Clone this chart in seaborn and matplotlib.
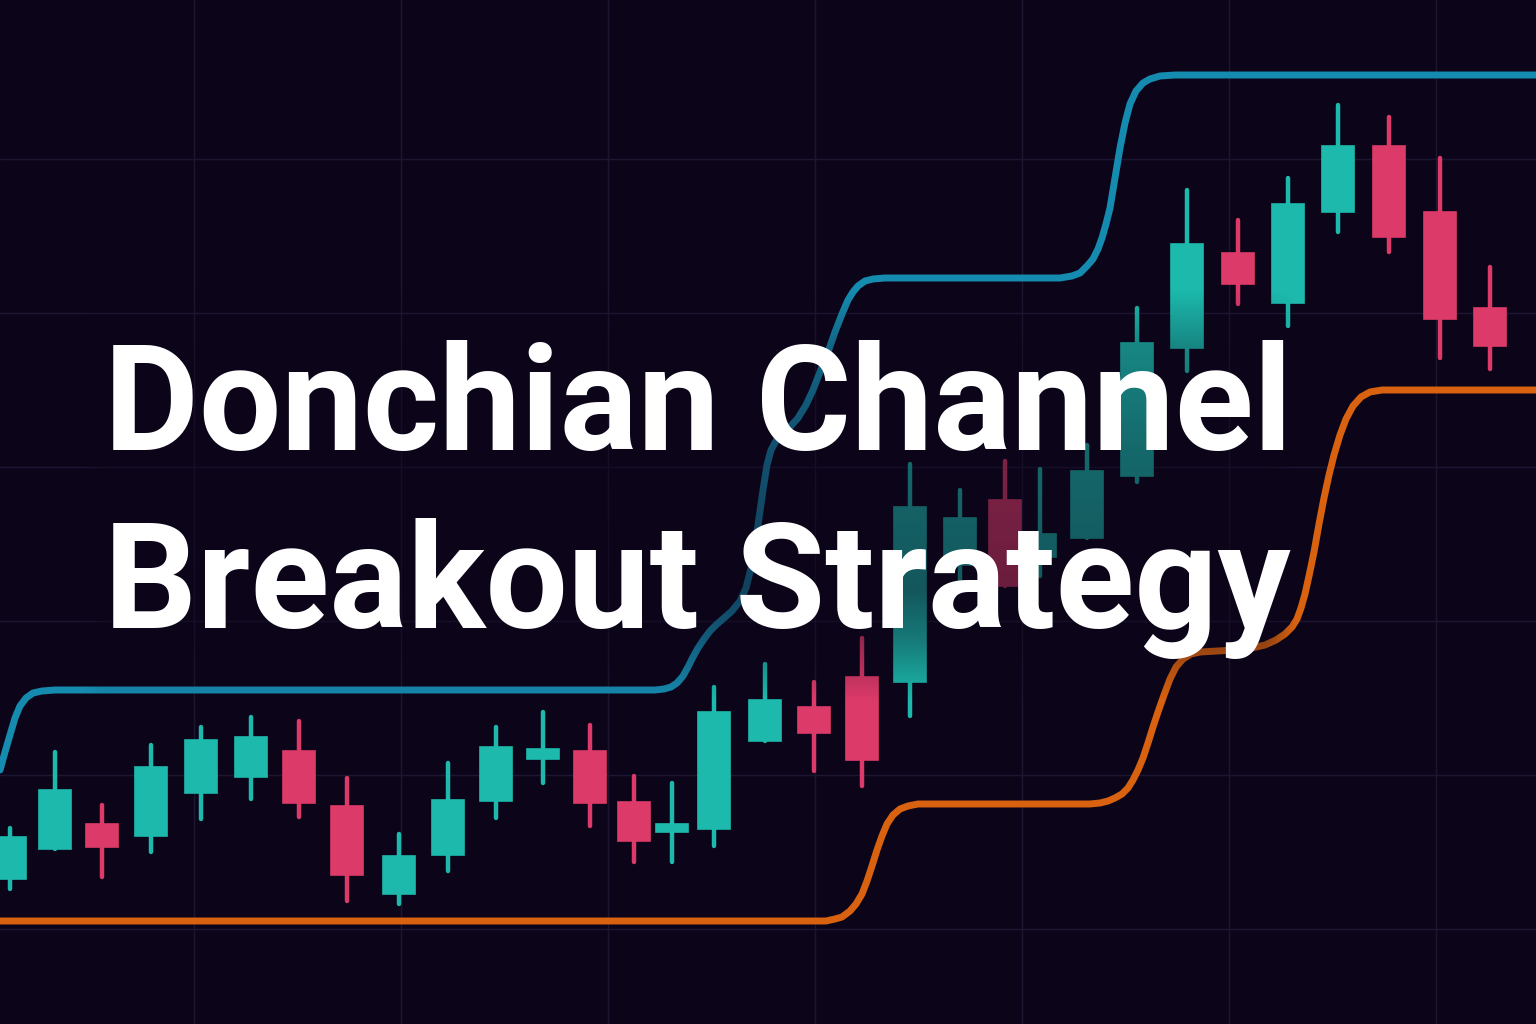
import numpy as np
import pandas as pd
import matplotlib.pyplot as plt
import seaborn as sns

# candle centres along the time axis
candle_x = [10, 55, 102, 151, 201, 251, 299, 347, 399, 448, 496, 543, 590, 634, 672, 714,
            765, 814, 862, 910, 960, 1005, 1040, 1087, 1137, 1187, 1238, 1288, 1338, 1389, 1440, 1490]
opens = [145, 175, 200, 188, 231, 247, 273, 218, 130, 169, 223, 265, 273, 222, 192, 195,
         283, 317, 347, 342, 459, 524, 467, 486, 548, 676, 771, 721, 812, 878, 812, 716]
highs = [196, 272, 219, 279, 297, 307, 303, 246, 190, 261, 297, 312, 299, 248, 241, 337,
         360, 342, 386, 560, 534, 563, 555, 579, 716, 834, 804, 846, 919, 907, 866, 757]
lows = [135, 175, 147, 172, 205, 225, 207, 123, 120, 153, 206, 241, 198, 162, 162, 178,
        283, 253, 238, 308, 434, 438, 448, 486, 542, 653, 720, 698, 792, 772, 666, 655]
closes = [187, 234, 177, 257, 284, 287, 221, 149, 168, 224, 277, 275, 221, 183, 200, 312,
          324, 291, 264, 517, 506, 438, 490, 553, 681, 780, 740, 820, 878, 787, 705, 678]

# Donchian channel lines
upper_x = [0, 5, 10, 15, 20, 26, 33, 42, 55, 655, 664, 671, 677, 683, 688, 693, 698, 704,
           710, 716, 724, 732, 740, 746, 751, 755, 759, 763, 767, 771, 776, 783, 790, 798,
           806, 813, 820, 828, 835, 842, 848, 853, 858, 865, 873, 885, 1060, 1072, 1080,
           1087, 1093, 1098, 1102, 1106, 1110, 1115, 1120, 1125, 1130, 1136, 1143, 1150,
           1160, 1175, 1536]
upper_y = [254, 272, 289, 306, 318, 326, 331, 333, 334, 334, 335, 337, 341, 348, 357, 367,
           376, 385, 393, 399, 406, 413, 423, 436, 456, 479, 506, 534, 559, 574, 583, 590,
           597, 606, 619, 634, 652, 672, 692, 710, 724, 732, 738, 743, 745, 746, 746, 748,
           751, 758, 765, 775, 786, 800, 816, 846, 876, 901, 920, 933, 941, 945, 948, 949, 949]
lower_x = [0, 815, 826, 835, 842, 850, 856, 862, 867, 872, 877, 882, 887, 893, 900, 908,
           918, 1090, 1100, 1108, 1115, 1122, 1128, 1133, 1138, 1143, 1148, 1153, 1158, 1164,
           1170, 1176, 1183, 1191, 1200, 1235, 1252, 1265, 1276, 1285, 1292, 1297, 1301,
           1305, 1309, 1314, 1319, 1324, 1329, 1334, 1340, 1346, 1353, 1361, 1370, 1382, 1536]
lower_y = [103, 103, 103, 105, 107, 113, 120, 130, 143, 158, 174, 188, 200, 209, 215, 218,
           220, 220, 221, 223, 226, 230, 236, 244, 254, 266, 281, 297, 312, 329, 345, 357,
           365, 370, 372, 374, 376, 379, 384, 390, 397, 405, 416, 430, 448, 472, 500, 526,
           549, 569, 589, 605, 618, 627, 632, 634, 634]

title_lines = ["Donchian Channel", "Breakout Strategy"]

bg = "#0c051a"
up_color = "#1cb9ac"
down_color = "#dc3a69"

sns.set_theme(style="dark", rc={"axes.facecolor": bg, "figure.facecolor": bg})
plt.rcParams['font.family'] = ['Roboto', 'DejaVu Sans']

df = pd.DataFrame({"x": candle_x, "open": opens, "high": highs, "low": lows, "close": closes})
df["up"] = df["close"] >= df["open"]
df["color"] = np.where(df["up"], up_color, down_color)

fig = plt.figure(figsize=(15.36, 10.24), dpi=100)
ax = fig.add_axes([0, 0, 1, 1])

# faint grid
ax.set_xticks([194, 401, 608, 815, 1022, 1229, 1436])
ax.set_yticks([95, 249, 403, 557, 711, 865])
ax.grid(True, color="#1d1631", linewidth=1)
ax.tick_params(length=0, labelbottom=False, labelleft=False)
for spine in ax.spines.values():
    spine.set_visible(False)

# channel lines
channels = pd.concat([
    pd.DataFrame({"x": upper_x, "y": upper_y, "band": "upper"}),
    pd.DataFrame({"x": lower_x, "y": lower_y, "band": "lower"}),
])
sns.lineplot(data=channels, x="x", y="y", hue="band", sort=False, estimator=None,
             palette={"upper": "#168bb0", "lower": "#d8620f"}, linewidth=5,
             legend=False, ax=ax, zorder=2)
for line in ax.lines:
    line.set_solid_capstyle("round")
    line.set_solid_joinstyle("round")

# candles: wicks then bodies
ax.vlines(df["x"], df["low"], df["high"], colors=df["color"], linewidth=3.2,
          capstyle="round", zorder=3)
body_low = df[["open", "close"]].min(axis=1)
body_h = (df["open"] - df["close"]).abs()
ax.bar(df["x"], body_h, bottom=body_low, width=32, color=df["color"],
       edgecolor=df["color"], linewidth=1.2, zorder=4)

# soft dark patch behind the title
ypix = np.arange(1024)
xpix = np.arange(1536)
a_y = np.interp(ypix, [0, 290, 345, 450, 590, 640, 700, 1024], [0, 0, 0.28, 0.45, 0.55, 0.35, 0, 0])
a_x = np.interp(xpix, [0, 80, 110, 1265, 1295, 1536], [0, 0, 1, 1, 0, 0])
shade = np.zeros((1024, 1536, 4))
shade[..., :3] = [12 / 255, 5 / 255, 26 / 255]
shade[..., 3] = np.outer(a_y, a_x)
ax.imshow(shade, extent=[0, 1536, 0, 1024], aspect="auto", origin="upper", zorder=5)
ax.set_xlim(0, 1536)
ax.set_ylim(0, 1024)

ax.text(104, 574, title_lines[0], color="white", fontsize=105, fontweight="bold",
        va="baseline", ha="left", zorder=6)
ax.text(104, 396, title_lines[1], color="white", fontsize=105, fontweight="bold",
        va="baseline", ha="left", zorder=6)

fig.savefig("out.png", dpi=100, facecolor=bg)
